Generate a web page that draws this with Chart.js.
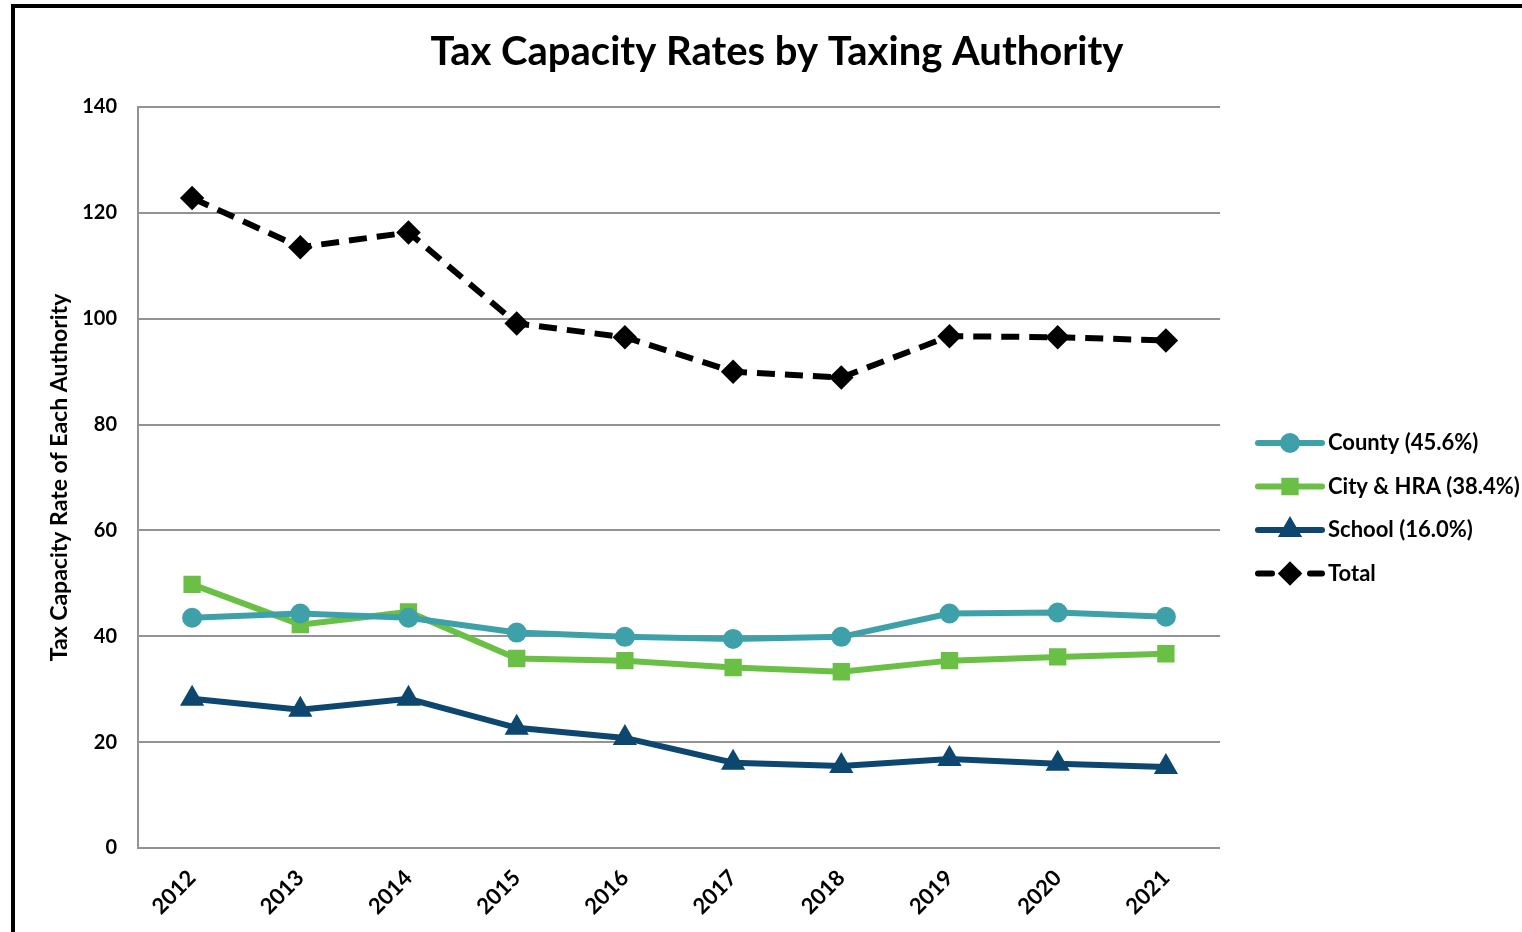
<!DOCTYPE html>
<html>
<head>
<meta charset="utf-8">
<title>Tax Capacity Rates by Taxing Authority</title>
<script src="https://cdn.jsdelivr.net/npm/chart.js@4.4.1/dist/chart.umd.min.js"></script>
<style>
  html, body { margin: 0; padding: 0; background: #fff; }
  #wrap { position: relative; width: 1522px; height: 932px; }
</style>
</head>
<body>
<div id="wrap"><canvas id="grafico" width="1522" height="932"></canvas></div>
<script>
// Anos e taxas por autoridade
const anos = ['2012', '2013', '2014', '2015', '2016', '2017', '2018', '2019', '2020', '2021'];
const county = [43.5, 44.3, 43.5, 40.7, 39.9, 39.5, 39.9, 44.3, 44.5, 43.7];
const cityHra = [49.8, 42.2, 44.6, 35.8, 35.4, 34.1, 33.3, 35.4, 36.1, 36.7];
const school = [28.2, 26.1, 28.2, 22.7, 20.8, 16.1, 15.5, 16.8, 15.9, 15.3];
const total = [122.8, 113.5, 116.3, 99.1, 96.5, 90.0, 88.9, 96.7, 96.5, 95.9];
const nomes = ['County (45.6%)', 'City & HRA (38.4%)', 'School (16.0%)', 'Total'];
const ticksY = [0, 20, 40, 60, 80, 100, 120, 140];
const titulo = 'Tax Capacity Rates by Taxing Authority';

const FONTE = 'Lato, "Open Sans", sans-serif';

// moldura preta e título
const moldura = {
  id: 'moldura',
  beforeDraw(chart) {
    const ctx = chart.ctx;
    ctx.save();
    ctx.fillStyle = '#fff';
    ctx.fillRect(0, 0, chart.width, chart.height);
    ctx.strokeStyle = '#000';
    ctx.lineWidth = 4;
    ctx.strokeRect(13, 6, chart.width + 20, chart.height + 20);
    ctx.fillStyle = '#000';
    ctx.font = 'bold 40px ' + FONTE;
    ctx.textAlign = 'center';
    ctx.textBaseline = 'middle';
    ctx.fillText(titulo, 777, 52);
    ctx.restore();
  }
};

// legenda desenhada à mão: linha com o marcador no meio
const legenda = {
  id: 'legenda',
  afterDraw(chart) {
    const ctx = chart.ctx;
    const x0 = 1258, x1 = 1322;
    let y = 443;
    chart.data.datasets.forEach(ds => {
      ctx.save();
      ctx.strokeStyle = ds.borderColor;
      ctx.lineWidth = 6;
      ctx.lineCap = 'round';
      if (ds.borderDash) ctx.setLineDash([14, 12]);
      ctx.beginPath();
      ctx.moveTo(x0, y);
      ctx.lineTo(x1, y);
      ctx.stroke();
      ctx.setLineDash([]);
      Chart.helpers.drawPoint(ctx, {
        pointStyle: ds.pointStyle,
        radius: ds.pointRadius,
        rotation: 0,
        borderWidth: 1
      }, (x0 + x1) / 2, y);
      ctx.fillStyle = ds.pointBackgroundColor;
      ctx.fill();
      ctx.fillStyle = '#000';
      ctx.font = 'bold 22px ' + FONTE;
      ctx.textBaseline = 'middle';
      ctx.fillText(ds.label, x1 + 6, y);
      ctx.restore();
      y += 43.5;
    });
  }
};

function serie(label, dados, cor, estilo, raio) {
  return {
    label: label,
    data: dados,
    borderColor: cor,
    backgroundColor: cor,
    pointBackgroundColor: cor,
    pointBorderColor: cor,
    borderWidth: 6,
    pointStyle: estilo,
    pointRadius: raio,
    pointHoverRadius: raio,
    tension: 0
  };
}

const datasets = [
  serie(nomes[0], county, '#3ea1a9', 'circle', 7),
  serie(nomes[1], cityHra, '#6abf45', 'rect', 8),
  serie(nomes[2], school, '#0d4770', 'triangle', 8),
  Object.assign(serie(nomes[3], total, '#000000', 'rectRot', 8), { borderDash: [18, 10] })
];

new Chart(document.getElementById('grafico'), {
  type: 'line',
  data: { labels: anos, datasets: datasets },
  plugins: [moldura, legenda],
  options: {
    responsive: false,
    animation: false,
    layout: { padding: { top: 107, right: 302, left: 20, bottom: 0 } },
    plugins: {
      legend: { display: false },
      tooltip: { enabled: false },
      title: { display: false }
    },
    scales: {
      x: {
        offset: true,
        grid: { display: false, drawTicks: false },
        border: { display: false },
        ticks: {
          color: '#000',
          font: { family: FONTE, size: 22, weight: 'bold' },
          maxRotation: 45,
          minRotation: 45,
          padding: 17
        },
        afterFit(scale) { scale.height = 84; }
      },
      y: {
        min: 0,
        max: 140,
        afterBuildTicks(scale) { scale.ticks = ticksY.map(v => ({ value: v })); },
        grid: { color: '#939393', lineWidth: 2, drawTicks: false },
        border: { display: true, color: '#939393', width: 2 },
        ticks: {
          color: '#000',
          font: { family: FONTE, size: 20, weight: 'bold' },
          padding: 21
        },
        title: {
          display: true,
          text: 'Tax Capacity Rate of Each Authority',
          color: '#000',
          font: { family: FONTE, size: 23, weight: 'bold' },
          padding: { top: 26, bottom: 10 }
        },
        afterFit(scale) { scale.width = 118; }
      }
    }
  }
});
</script>
</body>
</html>
